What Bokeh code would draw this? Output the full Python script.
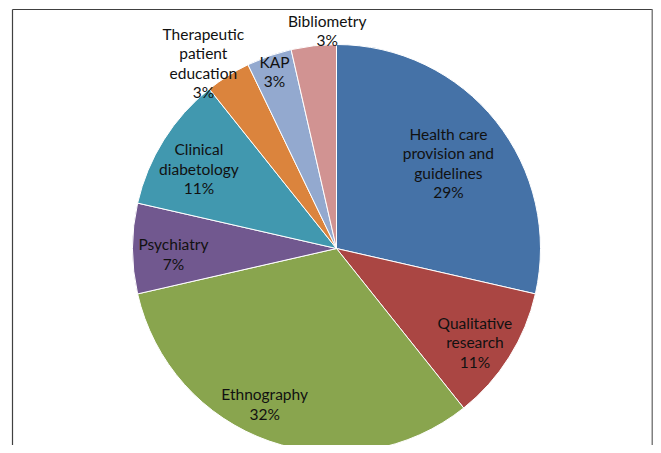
import math
from bokeh.plotting import figure
from bokeh.models import Range1d, ColumnDataSource
from bokeh.core.properties import value
from bokeh.embed import file_html
from bokeh.resources import INLINE

# ---- data ----
categories = ["Health care\nprovision and\nguidelines", "Qualitative\nresearch", "Ethnography",
              "Psychiatry", "Clinical\ndiabetology", "Therapeutic\npatient\neducation", "KAP", "Bibliometry"]
counts = [8, 3, 9, 2, 3, 1, 1, 1]
pct_labels = ["29%", "11%", "32%", "7%", "11%", "3%", "3%", "3%"]
colors = ["#4572A7", "#AA4643", "#89A54E", "#71588F", "#4198AF", "#DB843D", "#93A9CF", "#D19392"]
# label placement (style): radial factor and angular nudge in degrees
label_r = [0.69, 0.82, 0.84, 0.80, 0.78, 1.12, 0.92, 1.07]
label_nudge = [1.2, 2.0, 5.5, -2.0, -2.0, -3.5, 0.0, 4.0]

W, H = 653, 445
p = figure(width=W, height=H, output_backend="svg", toolbar_location=None,
           x_range=Range1d(0, W), y_range=Range1d(453 - H, 453),
           x_axis_type=None, y_axis_type=None, min_border=0)
p.grid.visible = False
p.outline_line_color = None
p.background_fill_color = "white"

cx, cy, R = 336, 453 - 248, 204
total = float(sum(counts))
starts, ends, lx, ly, texts = [], [], [], [], []
cum = 0.0
for i, c in enumerate(counts):
    f0 = cum / total
    cum += c
    f1 = cum / total
    starts.append(math.pi / 2 - 2 * math.pi * f0)
    ends.append(math.pi / 2 - 2 * math.pi * f1)
    mid_deg = (f0 + f1) / 2 * 360 + label_nudge[i]
    a = math.radians(mid_deg)
    r = R * label_r[i]
    lx.append(cx + r * math.sin(a))
    ly.append(cy + r * math.cos(a))
    texts.append(categories[i] + "\n" + pct_labels[i])

src = ColumnDataSource(dict(start=starts, end=ends, color=colors, lx=lx, ly=ly, text=texts))
p.wedge(x=cx, y=cy, radius=R, start_angle="start", end_angle="end", direction="clock",
        fill_color="color", line_color="white", line_width=1, source=src)
p.text(x="lx", y="ly", text="text", source=src, text_align="center", text_baseline="middle",
       text_font=value("Lato"), text_font_size="15.5px", text_color="#111111",
       text_line_height=1.08)

# chart frame
p.line(x=[12, 12], y=[0, 453 - 9], line_color="#404040", line_width=1.2)
p.line(x=[12, 652], y=[453 - 9, 453 - 9], line_color="#404040", line_width=1.2)
p.line(x=[652, 652], y=[0, 453 - 9], line_color="#808080", line_width=2)

open("out.html", "w").write(file_html(p, INLINE))
